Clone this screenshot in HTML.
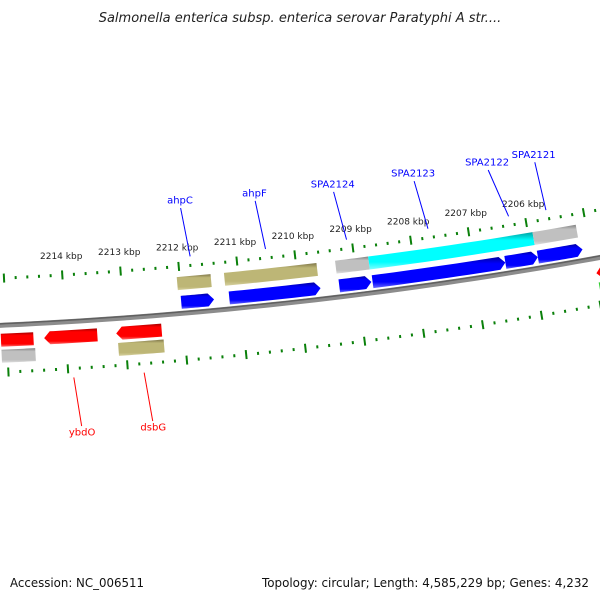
<!DOCTYPE html>
<html><head><meta charset="utf-8"><style>
html,body{margin:0;padding:0;background:#fff;}
svg{display:block;font-family:"DejaVu Sans","Liberation Sans",sans-serif;}
</style></head><body>
<svg id="map" width="600" height="600" viewBox="0 0 600 600" xmlns="http://www.w3.org/2000/svg">
<defs>
<linearGradient id="gBlue" x1="0" y1="0" x2="0" y2="1"><stop offset="0" stop-color="#0000a0"/><stop offset="0.22" stop-color="#0000ff"/><stop offset="0.8" stop-color="#0000ff"/><stop offset="1" stop-color="#6a6aff"/></linearGradient>
<linearGradient id="gCyan" x1="0" y1="0" x2="0" y2="1"><stop offset="0" stop-color="#00a0a0"/><stop offset="0.22" stop-color="#00ffff"/><stop offset="0.8" stop-color="#00ffff"/><stop offset="1" stop-color="#80ffff"/></linearGradient>
<linearGradient id="gGray" x1="0" y1="0" x2="0" y2="1"><stop offset="0" stop-color="#808080"/><stop offset="0.22" stop-color="#c0c0c0"/><stop offset="0.8" stop-color="#c0c0c0"/><stop offset="1" stop-color="#e0e0e0"/></linearGradient>
<linearGradient id="gOlive" x1="0" y1="0" x2="0" y2="1"><stop offset="0" stop-color="#7d7447"/><stop offset="0.22" stop-color="#bdb676"/><stop offset="0.8" stop-color="#bdb676"/><stop offset="1" stop-color="#d8d2a0"/></linearGradient>
<linearGradient id="gRed" x1="0" y1="0" x2="0" y2="1"><stop offset="0" stop-color="#a00000"/><stop offset="0.22" stop-color="#ff0000"/><stop offset="0.8" stop-color="#ff0000"/><stop offset="1" stop-color="#ff7070"/></linearGradient>
<linearGradient id="gGreen" x1="0" y1="0" x2="0" y2="1"><stop offset="0" stop-color="#1e8a1e"/><stop offset="0.22" stop-color="#33cc33"/><stop offset="0.8" stop-color="#33cc33"/><stop offset="1" stop-color="#80e080"/></linearGradient>
</defs>
<text x="300" y="22" text-anchor="middle" font-size="13" font-style="italic" fill="#222">Salmonella enterica subsp. enterica serovar Paratyphi A str....</text>
<text x="10" y="587" font-size="12" fill="#111" textLength="134" lengthAdjust="spacingAndGlyphs">Accession: NC_006511</text>
<text x="589" y="587" text-anchor="end" font-size="12" fill="#111" textLength="327" lengthAdjust="spacingAndGlyphs">Topology: circular; Length: 4,585,229 bp; Genes: 4,232</text>
<g id="layer"></g>
</svg>
<script>
// ---- data (kbp) ----
const tickStartKbp = 2204;
const tickEndKbp = 2216;
const labeledTicks = [2206, 2207, 2208, 2209, 2210, 2211, 2212, 2213, 2214];
// forward strand genes (blue)
const fwdStart = [2212.01, 2211.19, 2209.31, 2208.74, 2206.46, 2205.90];
const fwdEnd   = [2211.45, 2209.63, 2208.76, 2206.46, 2205.90, 2205.13];
// forward category row
const fwdCatStart = [2212.05, 2211.24, 2209.33, 2208.76, 2205.92];
const fwdCatEnd   = [2211.47, 2209.65, 2208.76, 2205.92, 2205.17];
const fwdCatColor = ["olive", "olive", "gray", "cyan", "gray"];
// reverse strand genes (red)
const revStart = [2215.10, 2214.37, 2213.15, 2204.97];
const revEnd   = [2214.55, 2213.47, 2212.38, 2204.40];
const revArrow = [false, true, true, true];
// reverse category row
const revCatStart = [2215.10, 2213.13, 2204.96];
const revCatEnd   = [2214.53, 2212.36, 2204.40];
const revCatColor = ["gray", "olive", "green"];
// gene labels
const labelNames = ["ahpC", "ahpF", "SPA2124", "SPA2123", "SPA2122", "SPA2121", "ybdO", "dsbG"];
const labelAnchorKbp = [2211.79, 2210.49, 2209.09, 2207.68, 2206.28, 2205.63, 2213.91, 2212.73];
const labelTextKbp = [2211.88, 2210.58, 2209.21, 2207.80, 2206.50, 2205.68, 2213.83, 2212.65];
const labelStrand = [1, 1, 1, 1, 1, 1, -1, -1];

// ---- geometry ----
const CX = -205, CY = -4170, R = 4500, PHI0 = 0.1125, K0 = 2210.0, DPHI = 0.01311;
function pt(k, off) {
  const phi = PHI0 + (K0 - k) * DPHI;
  const r = R - off;
  return [CX + r * Math.sin(phi), CY + r * Math.cos(phi)];
}
const NS = 'http://www.w3.org/2000/svg';
const layer = document.getElementById('layer');
function mk(tag, attrs) {
  const e = document.createElementNS(NS, tag);
  for (const a in attrs) e.setAttribute(a, attrs[a]);
  layer.appendChild(e);
  return e;
}
const fills = {olive:"url(#gOlive)", gray:"url(#gGray)", cyan:"url(#gCyan)", blue:"url(#gBlue)", red:"url(#gRed)", green:"url(#gGreen)"};
const TIP = 0.1;
// feature: from kA (left, larger kbp) to kB (right); dir: 1 arrow right, -1 arrow left, 0 none
function feature(kA, kB, off, h, dir) {
  const pts = [];
  const n = 12;
  let a = kA, b = kB;
  if (dir === 1) b = Math.min(kA, kB + TIP);
  if (dir === -1) a = Math.max(kB, kA - TIP);
  for (let i = 0; i <= n; i++) { const k = a + (b - a) * i / n; pts.push(pt(k, off + h / 2)); }
  if (dir === 1) pts.push(pt(kB, off));
  for (let i = n; i >= 0; i--) { const k = a + (b - a) * i / n; pts.push(pt(k, off - h / 2)); }
  if (dir === -1) pts.push(pt(kA, off));
  return pts.map(p => p[0].toFixed(2) + ',' + p[1].toFixed(2)).join(' ');
}

// backbone
(function(){
  const p = [];
  for (let k = 2217; k >= 2203; k -= 0.25) { const q = pt(k, 0); p.push(q[0].toFixed(2) + ',' + q[1].toFixed(2)); }
  const e = mk('polyline', {points: p.join(' '), fill: 'none', stroke: '#8c8c8c', 'stroke-width': 5});
  
  
  const e2 = mk('polyline', {points: p.join(' '), fill: 'none', stroke: '#606060', 'stroke-width': 1.5, transform: 'translate(0,-1.5)'});
  
  
})();

// ticks
const TICK_OFF = 47;
for (let i = 0; i <= (tickEndKbp - tickStartKbp) * 5; i++) {
  const k = tickStartKbp + i / 5;
  const major = (i % 5 === 0);
  const len = major ? 4.5 : 1.5;
  [1, -1].forEach(s => {
    const a = pt(k, s * (TICK_OFF - len)), b = pt(k, s * (TICK_OFF + len));
    const t = mk('line', {x1: a[0], y1: a[1], x2: b[0], y2: b[1], stroke: '#0a800a', 'stroke-width': 2});
    
    
  });
}
labeledTicks.forEach(k => {
  const p = pt(k, 65);
  const t = mk('text', {x: p[0], y: p[1], 'text-anchor': 'middle', 'dominant-baseline': 'central', 'font-size': 9, fill: '#222'});
  t.textContent = k + ' kbp';
  
  
});

// features
fwdCatStart.forEach((s, i) => {
  const e = mk('polygon', {points: feature(s, fwdCatEnd[i], 30, 13, 0), fill: fills[fwdCatColor[i]]});
  
  
});
fwdStart.forEach((s, i) => {
  const e = mk('polygon', {points: feature(s, fwdEnd[i], 11, 13, 1), fill: fills.blue});
  
  
});
revStart.forEach((s, i) => {
  const e = mk('polygon', {points: feature(s, revEnd[i], -15, 13, revArrow[i] ? -1 : 0), fill: fills.red});
  
  
});
revCatStart.forEach((s, i) => {
  const e = mk('polygon', {points: feature(s, revCatEnd[i], -31, 13, 0), fill: fills[revCatColor[i]]});
  
  
});

// gene labels
labelNames.forEach((n, i) => {
  const s = labelStrand[i];
  const col = s > 0 ? '#0000ff' : '#ff0000';
  const a = pt(labelAnchorKbp[i], s * 56), b = pt(labelTextKbp[i], s * 105), c = pt(labelTextKbp[i], s * 112);
  const l = mk('line', {x1: a[0], y1: a[1], x2: b[0], y2: b[1], stroke: col, 'stroke-width': 1});
  
  
  const t = mk('text', {x: c[0], y: c[1], 'text-anchor': 'middle', 'dominant-baseline': 'central', 'font-size': 10, fill: col});
  t.textContent = n;
  
  
});
</script>
</body></html>
